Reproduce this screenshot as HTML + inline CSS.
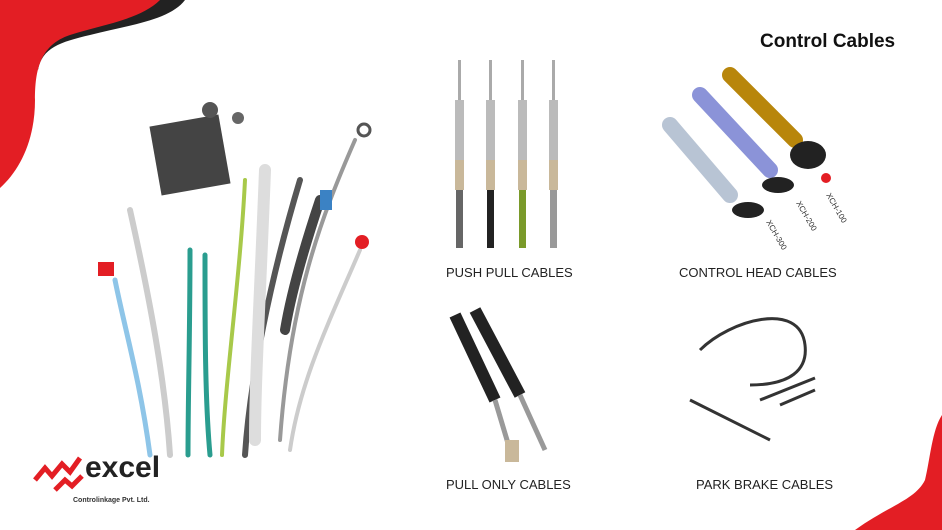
<!DOCTYPE html>
<html><head><meta charset="utf-8"><style>
body{margin:0;width:942px;height:530px;background:#fff;overflow:hidden;position:relative;font-family:"Liberation Sans",sans-serif}
svg{position:absolute;left:0;top:0}
.t{position:absolute;font-size:13px;color:#222;white-space:nowrap}
</style></head><body>
<svg width="942" height="530" viewBox="0 0 942 530">
<path d="M0 0 L185 0 C170 20 130 25 90 35 C60 42 42 48 38 70 Z" fill="#222"/>
<path d="M0 0 L160 0 C140 20 100 25 70 35 C40 45 35 70 35 100 C35 140 20 170 0 188 Z" fill="#e31e24"/>
<path d="M942 415 C932 430 930 460 925 480 C915 500 890 505 855 530 L942 530 Z" fill="#e31e24"/>
<!-- main cables cluster -->
<g stroke-linecap="round" fill="none">
<path d="M115 280 C125 330 140 380 150 455" stroke="#8ec5e8" stroke-width="5"/>
<path d="M130 210 C150 300 165 380 170 455" stroke="#ccc" stroke-width="6"/>
<path d="M190 250 C190 330 188 400 188 455" stroke="#2a9d8f" stroke-width="5"/>
<path d="M205 255 C205 330 205 400 210 455" stroke="#2a9d8f" stroke-width="5"/>
<path d="M245 180 C240 280 225 380 222 455" stroke="#a8c94a" stroke-width="4"/>
<path d="M300 180 C270 280 250 380 245 455" stroke="#555" stroke-width="6"/>
<path d="M265 170 C260 300 255 380 255 440" stroke="#ddd" stroke-width="12"/>
<path d="M355 140 C320 220 290 300 280 440" stroke="#999" stroke-width="4"/>
<path d="M360 250 C330 320 300 380 290 450" stroke="#ccc" stroke-width="4"/>
<path d="M320 200 C300 260 290 300 285 330" stroke="#444" stroke-width="10"/>
</g>
<rect x="155" y="120" width="70" height="70" fill="#444" transform="rotate(-10 190 155)"/>
<circle cx="210" cy="110" r="8" fill="#555"/><circle cx="238" cy="118" r="6" fill="#666"/>
<rect x="98" y="262" width="16" height="14" fill="#e31e24"/>
<circle cx="362" cy="242" r="7" fill="#e31e24"/>
<circle cx="364" cy="130" r="6" fill="none" stroke="#555" stroke-width="3"/>
<rect x="320" y="190" width="12" height="20" fill="#3b82c4"/>
<!-- push pull -->
<g>
<rect x="458" y="60" width="3" height="40" fill="#aaa"/><rect x="455" y="100" width="9" height="60" fill="#bbb"/><rect x="455" y="160" width="9" height="30" fill="#c9b89a"/><rect x="456" y="190" width="7" height="58" fill="#666"/>
<rect x="489" y="60" width="3" height="40" fill="#aaa"/><rect x="486" y="100" width="9" height="60" fill="#bbb"/><rect x="486" y="160" width="9" height="30" fill="#c9b89a"/><rect x="487" y="190" width="7" height="58" fill="#222"/>
<rect x="521" y="60" width="3" height="40" fill="#aaa"/><rect x="518" y="100" width="9" height="60" fill="#bbb"/><rect x="518" y="160" width="9" height="30" fill="#c9b89a"/><rect x="519" y="190" width="7" height="58" fill="#7a9a2a"/>
<rect x="552" y="60" width="3" height="40" fill="#aaa"/><rect x="549" y="100" width="9" height="60" fill="#bbb"/><rect x="549" y="160" width="9" height="30" fill="#c9b89a"/><rect x="550" y="190" width="7" height="58" fill="#999"/>
</g>
<!-- control heads -->
<g stroke-linecap="round">
<line x1="670" y1="125" x2="730" y2="195" stroke="#b8c4d4" stroke-width="16"/>
<line x1="700" y1="95" x2="770" y2="170" stroke="#8b93d8" stroke-width="16"/>
<line x1="730" y1="75" x2="795" y2="140" stroke="#b8860b" stroke-width="16"/>
</g>
<ellipse cx="748" cy="210" rx="16" ry="8" fill="#222"/><ellipse cx="778" cy="185" rx="16" ry="8" fill="#222"/><ellipse cx="808" cy="155" rx="18" ry="14" fill="#222"/>
<circle cx="826" cy="178" r="5" fill="#e31e24"/>
<text x="826" y="195" font-size="8" fill="#333" transform="rotate(60 826 195)" font-family="Liberation Sans">XCH-100</text>
<text x="796" y="203" font-size="8" fill="#333" transform="rotate(60 796 203)" font-family="Liberation Sans">XCH-200</text>
<text x="766" y="222" font-size="8" fill="#333" transform="rotate(60 766 222)" font-family="Liberation Sans">XCH-300</text>
<!-- pull only -->
<line x1="455" y1="315" x2="495" y2="400" stroke="#222" stroke-width="12"/>
<line x1="475" y1="310" x2="520" y2="395" stroke="#222" stroke-width="12"/>
<line x1="495" y1="400" x2="510" y2="450" stroke="#999" stroke-width="5"/>
<line x1="520" y1="395" x2="545" y2="450" stroke="#999" stroke-width="5"/>
<rect x="505" y="440" width="14" height="22" fill="#c9b89a"/>
<!-- park brake -->
<path d="M700 350 C730 320 800 300 805 345 C808 370 790 385 750 385" fill="none" stroke="#333" stroke-width="3"/>
<line x1="690" y1="400" x2="770" y2="440" stroke="#333" stroke-width="3"/>
<line x1="760" y1="400" x2="815" y2="378" stroke="#333" stroke-width="3"/>
<line x1="780" y1="405" x2="815" y2="390" stroke="#333" stroke-width="3"/>
<!-- logo -->
<path d="M35 480 L45 468 L52 476 L62 464 L70 472 L80 458" fill="none" stroke="#e31e24" stroke-width="5"/>
<path d="M55 490 L65 480 L72 486 L82 476" fill="none" stroke="#e31e24" stroke-width="5"/>
</svg>
<div class="t" style="left:760px;top:31px;font-size:19px;font-weight:bold;color:#111">Control Cables</div>
<div class="t" style="left:446px;top:265px">PUSH PULL CABLES</div>
<div class="t" style="left:679px;top:265px">CONTROL HEAD CABLES</div>
<div class="t" style="left:446px;top:477px">PULL ONLY CABLES</div>
<div class="t" style="left:696px;top:477px">PARK BRAKE CABLES</div>
<div class="t" style="left:85px;top:451px;font-size:30px;font-weight:bold;color:#222;letter-spacing:0px">excel</div>
<div class="t" style="left:73px;top:497px;font-size:7px;font-weight:bold;color:#333">Controlinkage Pvt. Ltd.</div>
</body></html>
